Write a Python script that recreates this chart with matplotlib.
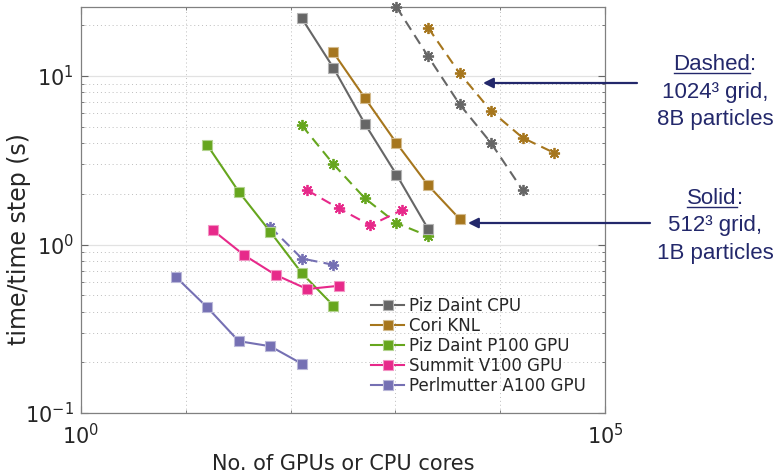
import matplotlib
matplotlib.use("Agg")
import matplotlib.pyplot as plt
from matplotlib.colors import to_rgb
from matplotlib.lines import Line2D
from matplotlib.ticker import FixedLocator, LogLocator, NullFormatter

# ── Data ──────────────────────────────────────────────────────────────────────
# Solid: 512^3 grid, 1B particles
daint_cpu_x = [128, 256, 512, 1024, 2048]
daint_cpu_y = [22.0, 11.2, 5.2, 2.6, 1.24]
cori_x = [256, 512, 1024, 2048, 4096]
cori_y = [13.8, 7.4, 4.0, 2.25, 1.42]
p100_x = [16, 32, 64, 128, 256]
p100_y = [3.9, 2.06, 1.19, 0.676, 0.434]
v100_x = [18, 36, 72, 144, 288]
v100_y = [1.22, 0.865, 0.66, 0.544, 0.569]
a100_x = [8, 16, 32, 64, 128]
a100_y = [0.644, 0.424, 0.267, 0.249, 0.196]

# Dashed: 1024^3 grid, 8B particles
daint_cpu_big_x = [1024, 2048, 4096, 8192, 16384]
daint_cpu_big_y = [25.7, 13.1, 6.8, 4.0, 2.1]
cori_big_x = [2048, 4096, 8192, 16384, 32768]
cori_big_y = [19.4, 10.4, 6.2, 4.3, 3.5]
p100_big_x = [128, 256, 512, 1024, 2048]
p100_big_y = [5.1, 3.0, 1.88, 1.34, 1.125]
v100_big_x = [144, 288, 576, 1152]
v100_big_y = [2.1, 1.64, 1.30, 1.60]
a100_big_x = [64, 128, 256]
a100_big_y = [1.27, 0.826, 0.758]

labels = ["Piz Daint CPU", "Cori KNL", "Piz Daint P100 GPU",
          "Summit V100 GPU", "Perlmutter A100 GPU"]
colors = ["#666666", "#a6761d", "#66a61e", "#e7298a", "#7570b3"]

solid = [(daint_cpu_x, daint_cpu_y), (cori_x, cori_y), (p100_x, p100_y),
         (v100_x, v100_y), (a100_x, a100_y)]
dashed = [(daint_cpu_big_x, daint_cpu_big_y), (cori_big_x, cori_big_y),
          (p100_big_x, p100_big_y), (v100_big_x, v100_big_y),
          (a100_big_x, a100_big_y)]

NAVY = "#23286b"
TXT = "#262626"
W, H = 778, 474


def fx(x):
    return x / W


def fy(y):
    return 1 - y / H


def light(c, a=0.5):
    r, g, b = to_rgb(c)
    return (r + (1 - r) * a, g + (1 - g) * a, b + (1 - b) * a)


fig = plt.figure(figsize=(W / 100, H / 100), dpi=100)
ax = fig.add_axes([fx(81), fy(413), 524 / W, 406 / H])
ax.set_xscale("log")
ax.set_yscale("log")

for (x, y), c in zip(dashed, colors):
    ax.plot(x, y, color=c, lw=1.5, dashes=(5, 3), marker=(8, 2, 0),
            markersize=8, markeredgewidth=1.3, clip_on=False, zorder=3)

for (x, y), c, lab in zip(solid, colors, labels):
    ax.plot(x, y, color=c, lw=1.5, marker="s", markersize=7,
            markeredgecolor=light(c), markeredgewidth=0.8,
            label=lab, zorder=4)

ax.set_xlim(1, 1e5)
ax.set_ylim(0.1, 25.7)

ax.set_xticks([1, 1e5])
ax.set_xticklabels([r"$10^{0}$", r"$10^{5}$"])
ax.xaxis.set_minor_locator(FixedLocator([10, 100, 1000, 10000]))
ax.xaxis.set_minor_formatter(NullFormatter())
ax.set_yticks([0.1, 1, 10])
ax.set_yticklabels([r"$10^{-1}$", r"$10^{0}$", r"$10^{1}$"])
ax.yaxis.set_minor_locator(LogLocator(base=10, subs=range(2, 10)))
ax.yaxis.set_minor_formatter(NullFormatter())

ax.set_axisbelow(True)
ax.grid(which="minor", ls=(0, (1, 3)), color="#bdbdbd", lw=0.7)
ax.grid(which="major", axis="y", ls="-", color="#e2e2e2", lw=0.9)

ax.tick_params(which="both", direction="in", top=True, right=True,
               color="#666666", labelsize=15, labelcolor=TXT)
ax.tick_params(which="major", length=5, width=0.8)
ax.tick_params(which="minor", length=2.5, width=0.6)
ax.tick_params(axis="x", pad=7)
ax.tick_params(axis="y", pad=5)
for s in ax.spines.values():
    s.set_color("#808080")
    s.set_linewidth(0.9)

ax.set_xlabel("No. of GPUs or CPU cores", fontsize=15, color=TXT, va="center")
ax.xaxis.set_label_coords(0.5, (413 - 464) / 406)
ax.set_ylabel("time/time step (s)", fontsize=17, color=TXT, va="center")
ax.yaxis.set_label_coords((19 - 81) / 524, (413 - 239) / 406)

ax.legend(loc="upper left", bbox_to_anchor=(fx(371), fy(297)),
          bbox_transform=fig.transFigure, frameon=False, fontsize=12,
          handlelength=2.0, handletextpad=0.3, labelspacing=0.12,
          borderpad=0, borderaxespad=0, labelcolor=TXT)

# ── Right-hand annotations ────────────────────────────────────────────────────
font = dict(family="Liberation Sans", fontsize=16, color=NAVY, va="baseline")
cx = 715
for word, yb, rest in [("Dashed", 70.5, ["1024\u00b3 grid,", "8B particles"]),
                       ("Solid", 204, ["512\u00b3 grid,", "1B particles"])]:
    head = fig.text(0, fy(yb), word + ":", ha="center", **font)
    fig.canvas.draw()
    wfull = head.get_window_extent().width
    head.remove()
    t1 = fig.text(fx(cx - wfull / 2), fy(yb), word, ha="left", **font)
    fig.canvas.draw()
    bb = t1.get_window_extent()
    fig.text(bb.x1 / W, fy(yb), ":", ha="left", **font)
    fig.add_artist(Line2D([bb.x0 / W, bb.x1 / W], [fy(yb + 2.5)] * 2,
                          color=NAVY, lw=1.0, transform=fig.transFigure))
    for i, line in enumerate(rest):
        fig.text(fx(cx), fy(yb + 27.5 * (i + 1)), line, ha="center", **font)

for (x0, x1, y) in [(637, 483, 83), (650, 468, 223)]:
    ax.annotate("", xy=(fx(x1), fy(y)), xytext=(fx(x0), fy(y)),
                xycoords="figure fraction", textcoords="figure fraction",
                arrowprops=dict(arrowstyle="-|>", color=NAVY, lw=1.6,
                                mutation_scale=15, shrinkA=0, shrinkB=0),
                annotation_clip=False)

fig.savefig("out.png", dpi=100)
